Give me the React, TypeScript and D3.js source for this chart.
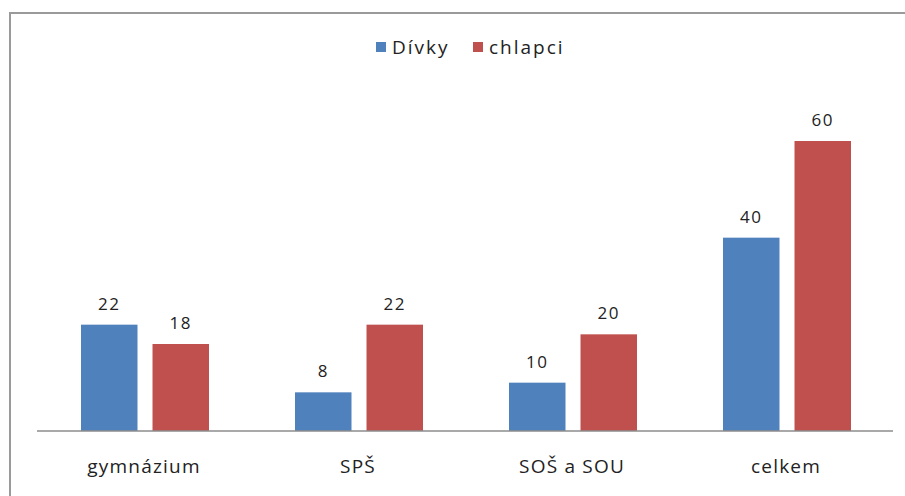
import { useEffect, useRef } from "react";
import * as d3 from "d3";

const categories = ["gymnázium", "SPŠ", "SOŠ a SOU", "celkem"];
const seriesNames = ["Dívky", "chlapci"];
const divky = [22, 8, 10, 40];
const chlapci = [18, 22, 20, 60];
const colors = ["#4F81BD", "#C0504D"];

const width = 905;
const height = 496;

const App = () => {
  const svgRef = useRef<SVGSVGElement>(null);

  useEffect(() => {
    const svg = d3.select(svgRef.current);
    svg.selectAll("*").remove();

    const font = "'Open Sans', sans-serif";
    const axisY = 431;

    // chart frame (right and bottom edges fall outside the picture)
    svg
      .append("rect")
      .attr("x", 10)
      .attr("y", 13)
      .attr("width", 920)
      .attr("height", 520)
      .attr("fill", "#fff")
      .attr("stroke", "#9a9a9a")
      .attr("stroke-width", 2);

    const x0 = d3
      .scaleBand()
      .domain(categories)
      .range([37, 893])
      .paddingInner(0)
      .paddingOuter(0);

    const x1 = d3
      .scaleBand()
      .domain(seriesNames)
      .range([44, 44 + 128])
      .paddingInner(0.21)
      .paddingOuter(0);

    const y = d3.scaleLinear().domain([0, 60]).range([axisY, 141]);

    const rows = categories.map((c, i) => ({
      cat: c,
      vals: [divky[i], chlapci[i]],
    }));

    const groups = svg
      .selectAll(".grp")
      .data(rows)
      .enter()
      .append("g")
      .attr("class", "grp")
      .attr("transform", (d) => `translate(${x0(d.cat)},0)`);

    groups
      .selectAll("rect")
      .data((d) => d.vals.map((v, j) => ({ v, s: seriesNames[j], j })))
      .enter()
      .append("rect")
      .attr("x", (d) => x1(d.s)!)
      .attr("y", (d) => y(d.v))
      .attr("width", x1.bandwidth())
      .attr("height", (d) => axisY - y(d.v))
      .attr("fill", (d) => colors[d.j]);

    groups
      .selectAll(".val")
      .data((d) => d.vals.map((v, j) => ({ v, s: seriesNames[j] })))
      .enter()
      .append("text")
      .attr("class", "val")
      .attr("x", (d) => x1(d.s)! + x1.bandwidth() / 2)
      .attr("y", (d) => y(d.v) - 15)
      .attr("text-anchor", "middle")
      .attr("font-family", font)
      .attr("font-size", 17)
      .attr("letter-spacing", 1.5)
      .attr("fill", "#222")
      .text((d) => d.v);

    // axis line
    svg
      .append("line")
      .attr("x1", 37)
      .attr("x2", 893)
      .attr("y1", axisY)
      .attr("y2", axisY)
      .attr("stroke", "#8c8c8c")
      .attr("stroke-width", 1.5);

    svg
      .selectAll(".cat")
      .data(categories)
      .enter()
      .append("text")
      .attr("class", "cat")
      .attr("x", (d) => x0(d)! + x0.bandwidth() / 2)
      .attr("y", 473)
      .attr("text-anchor", "middle")
      .attr("font-family", font)
      .attr("font-size", 19)
      .attr("letter-spacing", 1.2)
      .attr("fill", "#222")
      .text((d) => d);

    // legend
    const legendX = [376, 473];
    const lg = svg
      .selectAll(".lg")
      .data(seriesNames)
      .enter()
      .append("g")
      .attr("class", "lg")
      .attr("transform", (_d, i) => `translate(${legendX[i]},42)`);
    lg.append("rect")
      .attr("width", 10)
      .attr("height", 10)
      .attr("fill", (_d, i) => colors[i]);
    lg.append("text")
      .attr("x", 16)
      .attr("y", 12)
      .attr("font-family", font)
      .attr("font-size", 19)
      .attr("letter-spacing", 2)
      .attr("fill", "#222")
      .text((d) => d);
  }, []);

  return (
    <svg
      ref={svgRef}
      width={width}
      height={height}
      style={{ position: "absolute", left: 0, top: 0, display: "block" }}
    />
  );
};

export default App;
